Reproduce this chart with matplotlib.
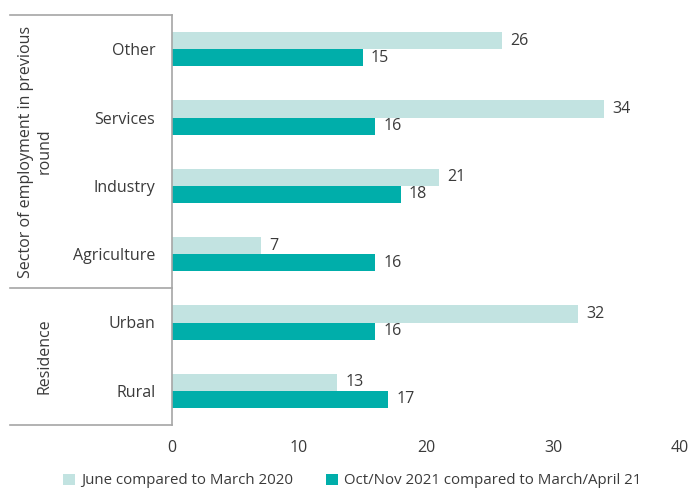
import matplotlib.pyplot as plt
from matplotlib.lines import Line2D
from matplotlib.patches import Patch

plt.rcParams['font.family'] = ['Open Sans', 'DejaVu Sans']

categories = ["Other", "Services", "Industry", "Agriculture", "Urban", "Rural"]
june_2020 = [26, 34, 21, 7, 32, 13]
octnov_2021 = [15, 16, 18, 16, 16, 17]
series_labels = ["June compared to March 2020", "Oct/Nov 2021 compared to March/April 21"]
groups = [("Sector of employment in previous\nround", 0, 3), ("Residence", 4, 5)]

LIGHT = "#c2e3e1"
DARK = "#00aeaa"
TEXT = "#3a3a3a"
RULE = "#a6a6a6"

fig = plt.figure(figsize=(6.92, 4.92), dpi=100)
W, H = 692, 492
ax = fig.add_axes([172 / W, (H - 425) / H, 508 / W, 410 / H])

ypos = list(range(len(categories)))
bh = 0.25
ax.barh([y - bh / 2 for y in ypos], june_2020, height=bh, color=LIGHT, label=series_labels[0])
ax.barh([y + bh / 2 for y in ypos], octnov_2021, height=bh, color=DARK, label=series_labels[1])

for y, v in zip(ypos, june_2020):
    ax.annotate(f"{v}", (v, y - bh / 2), xytext=(6, 0), textcoords="offset points",
                va="center", ha="left", fontsize=11.5, color=TEXT)
for y, v in zip(ypos, octnov_2021):
    ax.annotate(f"{v}", (v, y + bh / 2), xytext=(6, 0), textcoords="offset points",
                va="center", ha="left", fontsize=11.5, color=TEXT)

ax.set_xlim(0, 40)
ax.set_ylim(len(categories) - 0.5, -0.5)
ax.set_xticks([0, 10, 20, 30, 40])
ax.set_yticks(ypos)
ax.set_yticklabels(categories)
ax.tick_params(axis="both", length=0, labelsize=11.5, colors=TEXT)
ax.tick_params(axis="y", pad=12)
ax.tick_params(axis="x", pad=11)
for side in ["top", "right", "bottom"]:
    ax.spines[side].set_visible(False)
ax.spines["left"].set_color(RULE)
ax.spines["left"].set_linewidth(1.2)

# group brackets on the left of the category labels
x0 = (10 - 172) / 508
trans = ax.get_yaxis_transform()
for yl in [-0.5, 3.5, 5.5]:
    ax.add_line(Line2D([x0, 0], [yl, yl], transform=trans, color=RULE, lw=1.2, clip_on=False))

group_x = {0: (35 - 172) / 508, 1: (45 - 172) / 508}
for i, (name, start, end) in enumerate(groups):
    ax.text(group_x[i], (start + end) / 2, name, transform=trans, rotation=90,
            ha="center", va="center", fontsize=11.5, color=TEXT, multialignment="center")

handles = [Patch(facecolor=LIGHT, edgecolor="none"), Patch(facecolor=DARK, edgecolor="none")]
fig.legend(handles, series_labels, loc="center", bbox_to_anchor=(352 / W, (H - 481) / H),
           ncol=2, frameon=False, fontsize=10.8, labelcolor=TEXT, handlelength=0.8,
           handleheight=0.8, handletextpad=0.4, columnspacing=2.2, borderpad=0.2)

fig.savefig("out.png", dpi=100)
